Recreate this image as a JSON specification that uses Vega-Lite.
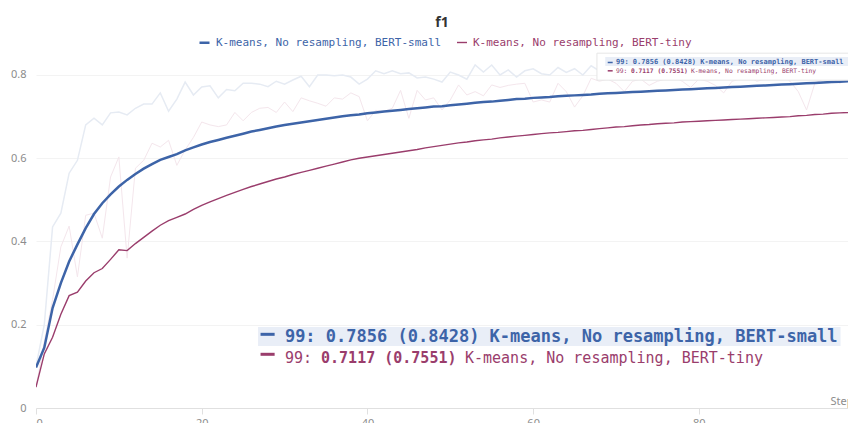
{
  "$schema": "https://vega.github.io/schema/vega-lite/v6.json",
  "width": 812,
  "height": 358,
  "autosize": {"type": "none"},
  "padding": {"left": 36, "top": 50, "right": 0, "bottom": 15},
  "background": "white",
  "title": {"text": "f1", "font": "Open Sans", "fontSize": 14, "fontWeight": "bold", "color": "#333333", "anchor": "middle", "frame": "group", "offset": 6},
  "config": {
    "view": {"stroke": null},
    "axis": {"labelFont": "Noto Sans", "labelFontSize": 11, "labelColor": "#8c8c8c", "gridColor": "#f3f3f3", "domain": false, "ticks": false, "titleFont": "Noto Sans", "titleFontWeight": "normal", "titleColor": "#8c8c8c", "titleFontSize": 11}
  },
  "datasets": {
    "runs": [
      {"step":0,"small":0.097,"tiny":0.05,"small_raw":0.10,"tiny_raw":0.05},
      {"step":1,"small":0.145,"tiny":0.13,"small_raw":0.20,"tiny_raw":0.16},
      {"step":2,"small":0.24,"tiny":0.17,"small_raw":0.435,"tiny_raw":0.26},
      {"step":3,"small":0.30,"tiny":0.225,"small_raw":0.468,"tiny_raw":0.387},
      {"step":4,"small":0.352,"tiny":0.27,"small_raw":0.564,"tiny_raw":0.437},
      {"step":5,"small":0.393,"tiny":0.278,"small_raw":0.595,"tiny_raw":0.315},
      {"step":6,"small":0.432,"tiny":0.305,"small_raw":0.68,"tiny_raw":0.463},
      {"step":7,"small":0.466,"tiny":0.325,"small_raw":0.696,"tiny_raw":0.468},
      {"step":8,"small":0.492,"tiny":0.335,"small_raw":0.68,"tiny_raw":0.408},
      {"step":9,"small":0.513,"tiny":0.357,"small_raw":0.709,"tiny_raw":0.555},
      {"step":10,"small":0.532,"tiny":0.38,"small_raw":0.711,"tiny_raw":0.603},
      {"step":11,"small":0.548,"tiny":0.378,"small_raw":0.704,"tiny_raw":0.36},
      {"step":12,"small":0.562,"tiny":0.395,"small_raw":0.72,"tiny_raw":0.576},
      {"step":13,"small":0.575,"tiny":0.41,"small_raw":0.73,"tiny_raw":0.595},
      {"step":14,"small":0.586,"tiny":0.425,"small_raw":0.73,"tiny_raw":0.636},
      {"step":15,"small":0.596,"tiny":0.439,"small_raw":0.757,"tiny_raw":0.627},
      {"step":16,"small":0.603,"tiny":0.45,"small_raw":0.713,"tiny_raw":0.643},
      {"step":17,"small":0.61,"tiny":0.458,"small_raw":0.742,"tiny_raw":0.583},
      {"step":18,"small":0.619,"tiny":0.466,"small_raw":0.783,"tiny_raw":0.62},
      {"step":19,"small":0.626,"tiny":0.477,"small_raw":0.752,"tiny_raw":0.65},
      {"step":20,"small":0.633,"tiny":0.487,"small_raw":0.771,"tiny_raw":0.687},
      {"step":21,"small":0.639,"tiny":0.495,"small_raw":0.774,"tiny_raw":0.68},
      {"step":22,"small":0.644,"tiny":0.503,"small_raw":0.745,"tiny_raw":0.676},
      {"step":23,"small":0.649,"tiny":0.511,"small_raw":0.765,"tiny_raw":0.68},
      {"step":24,"small":0.654,"tiny":0.518,"small_raw":0.762,"tiny_raw":0.71},
      {"step":25,"small":0.659,"tiny":0.525,"small_raw":0.78,"tiny_raw":0.69},
      {"step":26,"small":0.664,"tiny":0.532,"small_raw":0.78,"tiny_raw":0.71},
      {"step":27,"small":0.668,"tiny":0.538,"small_raw":0.778,"tiny_raw":0.72},
      {"step":28,"small":0.672,"tiny":0.544,"small_raw":0.772,"tiny_raw":0.722},
      {"step":29,"small":0.676,"tiny":0.55,"small_raw":0.785,"tiny_raw":0.71},
      {"step":30,"small":0.68,"tiny":0.555,"small_raw":0.778,"tiny_raw":0.735},
      {"step":31,"small":0.683,"tiny":0.561,"small_raw":0.788,"tiny_raw":0.712},
      {"step":32,"small":0.686,"tiny":0.566,"small_raw":0.797,"tiny_raw":0.745},
      {"step":33,"small":0.689,"tiny":0.571,"small_raw":0.772,"tiny_raw":0.738},
      {"step":34,"small":0.692,"tiny":0.576,"small_raw":0.8,"tiny_raw":0.732},
      {"step":35,"small":0.695,"tiny":0.581,"small_raw":0.8,"tiny_raw":0.725},
      {"step":36,"small":0.698,"tiny":0.586,"small_raw":0.798,"tiny_raw":0.745},
      {"step":37,"small":0.701,"tiny":0.591,"small_raw":0.8,"tiny_raw":0.742},
      {"step":38,"small":0.703,"tiny":0.596,"small_raw":0.795,"tiny_raw":0.757},
      {"step":39,"small":0.705,"tiny":0.6,"small_raw":0.778,"tiny_raw":0.748},
      {"step":40,"small":0.708,"tiny":0.603,"small_raw":0.79,"tiny_raw":0.69},
      {"step":41,"small":0.71,"tiny":0.606,"small_raw":0.81,"tiny_raw":0.715},
      {"step":42,"small":0.712,"tiny":0.609,"small_raw":0.803,"tiny_raw":0.712},
      {"step":43,"small":0.714,"tiny":0.612,"small_raw":0.81,"tiny_raw":0.72},
      {"step":44,"small":0.716,"tiny":0.615,"small_raw":0.803,"tiny_raw":0.763},
      {"step":45,"small":0.718,"tiny":0.618,"small_raw":0.805,"tiny_raw":0.696},
      {"step":46,"small":0.72,"tiny":0.621,"small_raw":0.793,"tiny_raw":0.763},
      {"step":47,"small":0.722,"tiny":0.625,"small_raw":0.795,"tiny_raw":0.74},
      {"step":48,"small":0.724,"tiny":0.628,"small_raw":0.79,"tiny_raw":0.745},
      {"step":49,"small":0.725,"tiny":0.631,"small_raw":0.783,"tiny_raw":0.716},
      {"step":50,"small":0.727,"tiny":0.634,"small_raw":0.807,"tiny_raw":0.74},
      {"step":51,"small":0.729,"tiny":0.637,"small_raw":0.8,"tiny_raw":0.776},
      {"step":52,"small":0.731,"tiny":0.639,"small_raw":0.79,"tiny_raw":0.752},
      {"step":53,"small":0.733,"tiny":0.642,"small_raw":0.824,"tiny_raw":0.76},
      {"step":54,"small":0.735,"tiny":0.644,"small_raw":0.807,"tiny_raw":0.75},
      {"step":55,"small":0.736,"tiny":0.646,"small_raw":0.824,"tiny_raw":0.776},
      {"step":56,"small":0.738,"tiny":0.649,"small_raw":0.8,"tiny_raw":0.77},
      {"step":57,"small":0.74,"tiny":0.651,"small_raw":0.812,"tiny_raw":0.775},
      {"step":58,"small":0.742,"tiny":0.653,"small_raw":0.795,"tiny_raw":0.778},
      {"step":59,"small":0.743,"tiny":0.655,"small_raw":0.81,"tiny_raw":0.78},
      {"step":60,"small":0.745,"tiny":0.657,"small_raw":0.815,"tiny_raw":0.735},
      {"step":61,"small":0.746,"tiny":0.659,"small_raw":0.803,"tiny_raw":0.74},
      {"step":62,"small":0.747,"tiny":0.661,"small_raw":0.8,"tiny_raw":0.735},
      {"step":63,"small":0.749,"tiny":0.662,"small_raw":0.818,"tiny_raw":0.78},
      {"step":64,"small":0.75,"tiny":0.664,"small_raw":0.806,"tiny_raw":0.76},
      {"step":65,"small":0.751,"tiny":0.666,"small_raw":0.815,"tiny_raw":0.723},
      {"step":66,"small":0.752,"tiny":0.667,"small_raw":0.8,"tiny_raw":0.75},
      {"step":67,"small":0.753,"tiny":0.669,"small_raw":0.822,"tiny_raw":0.792},
      {"step":68,"small":0.755,"tiny":0.671,"small_raw":0.81,"tiny_raw":0.785},
      {"step":69,"small":0.756,"tiny":0.673,"small_raw":0.818,"tiny_raw":0.79},
      {"step":70,"small":0.757,"tiny":0.675,"small_raw":0.81,"tiny_raw":0.78},
      {"step":71,"small":0.758,"tiny":0.676,"small_raw":0.805,"tiny_raw":0.76},
      {"step":72,"small":0.759,"tiny":0.678,"small_raw":0.81,"tiny_raw":0.785},
      {"step":73,"small":0.76,"tiny":0.68,"small_raw":0.8,"tiny_raw":0.79},
      {"step":74,"small":0.761,"tiny":0.681,"small_raw":0.812,"tiny_raw":0.775},
      {"step":75,"small":0.762,"tiny":0.683,"small_raw":0.815,"tiny_raw":0.785},
      {"step":76,"small":0.763,"tiny":0.684,"small_raw":0.808,"tiny_raw":0.79},
      {"step":77,"small":0.764,"tiny":0.685,"small_raw":0.82,"tiny_raw":0.795},
      {"step":78,"small":0.765,"tiny":0.687,"small_raw":0.81,"tiny_raw":0.785},
      {"step":79,"small":0.766,"tiny":0.688,"small_raw":0.815,"tiny_raw":0.77},
      {"step":80,"small":0.767,"tiny":0.689,"small_raw":0.82,"tiny_raw":0.79},
      {"step":81,"small":0.768,"tiny":0.69,"small_raw":0.812,"tiny_raw":0.785},
      {"step":82,"small":0.769,"tiny":0.691,"small_raw":0.825,"tiny_raw":0.775},
      {"step":83,"small":0.77,"tiny":0.692,"small_raw":0.815,"tiny_raw":0.757},
      {"step":84,"small":0.771,"tiny":0.693,"small_raw":0.82,"tiny_raw":0.785},
      {"step":85,"small":0.772,"tiny":0.694,"small_raw":0.83,"tiny_raw":0.79},
      {"step":86,"small":0.773,"tiny":0.695,"small_raw":0.82,"tiny_raw":0.795},
      {"step":87,"small":0.774,"tiny":0.696,"small_raw":0.825,"tiny_raw":0.785},
      {"step":88,"small":0.775,"tiny":0.697,"small_raw":0.818,"tiny_raw":0.79},
      {"step":89,"small":0.776,"tiny":0.698,"small_raw":0.828,"tiny_raw":0.795},
      {"step":90,"small":0.777,"tiny":0.699,"small_raw":0.83,"tiny_raw":0.8},
      {"step":91,"small":0.778,"tiny":0.7,"small_raw":0.822,"tiny_raw":0.785},
      {"step":92,"small":0.779,"tiny":0.702,"small_raw":0.835,"tiny_raw":0.76},
      {"step":93,"small":0.78,"tiny":0.703,"small_raw":0.83,"tiny_raw":0.716},
      {"step":94,"small":0.781,"tiny":0.705,"small_raw":0.826,"tiny_raw":0.78},
      {"step":95,"small":0.782,"tiny":0.706,"small_raw":0.832,"tiny_raw":0.79},
      {"step":96,"small":0.783,"tiny":0.708,"small_raw":0.838,"tiny_raw":0.795},
      {"step":97,"small":0.784,"tiny":0.709,"small_raw":0.83,"tiny_raw":0.78},
      {"step":98,"small":0.785,"tiny":0.71,"small_raw":0.84,"tiny_raw":0.79},
      {"step":99,"small":0.7856,"tiny":0.7117,"small_raw":0.8428,"tiny_raw":0.7551}
    ],
    "notes": [
      {"id":"bigbox","x":26.8,"x2":97.1,"y":0.149,"y2":0.1945},
      {"id":"bigdash1","x":27.1,"x2":28.8,"y":0.177},
      {"id":"bigdash2","x":27.1,"x2":28.8,"y":0.129},
      {"id":"big1","x":30.04,"y":0.170,"label":"99: 0.7856 (0.8428) K-means, No resampling, BERT-small"},
      {"id":"big2a","x":30.04,"y":0.121,"label":"99:"},
      {"id":"big2b","x":34.4,"y":0.121,"label":"0.7117 (0.7551)"},
      {"id":"big2c","x":51.77,"y":0.121,"label":"K-means, No resampling, BERT-tiny"},
      {"id":"tipbox","x":67.7,"x2":98.5,"y":0.7875,"y2":0.8524},
      {"id":"tiphl","x":68.7,"x2":98.5,"y":0.8215,"y2":0.843},
      {"id":"tipdash1","x":69.0,"x2":69.6,"y":0.830},
      {"id":"tipdash2","x":69.0,"x2":69.6,"y":0.810},
      {"id":"tip1","x":70.0,"y":0.830,"label":"99: 0.7856 (0.8428) K-means, No resampling, BERT-small"},
      {"id":"tip2a","x":70.0,"y":0.810,"label":"99:"},
      {"id":"tip2b","x":71.8,"y":0.810,"label":"0.7117 (0.7551)"},
      {"id":"tip2c","x":79.05,"y":0.810,"label":"K-means, No resampling, BERT-tiny"}
    ]
  },
  "layer": [
    {
      "data": {"name": "runs"},
      "mark": {"type": "line", "color": "#e6ebf3", "strokeWidth": 1.5, "clip": true},
      "encoding": {
        "x": {"field": "step", "type": "quantitative", "scale": {"domain": [0, 98], "nice": false, "zero": false},
          "axis": {"values": [0, 20, 40, 60, 80], "format": "d", "grid": false, "domain": true, "domainColor": "#e0e0e0", "ticks": true, "tickColor": "#e0e0e0", "tickSize": 6, "labelPadding": 3,
            "title": "Step", "titleX": 794, "titleY": -7, "titleAlign": "left", "titleBaseline": "middle", "titleAnchor": null}},
        "y": {"field": "small_raw", "type": "quantitative", "scale": {"domain": [0, 0.86], "nice": false},
          "axis": {"values": [0, 0.2, 0.4, 0.6, 0.8], "format": "~g", "grid": true, "labelPadding": 10, "title": null}}
      }
    },
    {
      "data": {"name": "runs"},
      "mark": {"type": "line", "color": "#f4e6ec", "strokeWidth": 1, "clip": true},
      "encoding": {
        "x": {"field": "step", "type": "quantitative", "scale": {"domain": [0, 98], "nice": false, "zero": false}},
        "y": {"field": "tiny_raw", "type": "quantitative", "scale": {"domain": [0, 0.86], "nice": false}}
      }
    },
    {
      "data": {"name": "runs"},
      "transform": [{"fold": ["small", "tiny"], "as": ["run", "f1"]}],
      "mark": {"type": "line", "clip": true},
      "encoding": {
        "x": {"field": "step", "type": "quantitative", "scale": {"domain": [0, 98], "nice": false, "zero": false}},
        "y": {"field": "f1", "type": "quantitative", "scale": {"domain": [0, 0.86], "nice": false}},
        "color": {"field": "run", "type": "nominal", "scale": {"domain": ["small", "tiny"], "range": ["#3d64a8", "#9a3d6c"]},
          "legend": {"orient": "none", "legendX": 162, "legendY": -14, "direction": "horizontal", "title": null,
            "symbolType": "stroke", "symbolStrokeWidth": 3, "symbolSize": 100, "labelFont": "DejaVu Sans Mono", "labelFontSize": 11,
            "labelOffset": 5, "columnPadding": 12, "labelLimit": 400,
            "labelExpr": "datum.label == 'small' ? 'K-means, No resampling, BERT-small' : 'K-means, No resampling, BERT-tiny'",
            "encode": {"labels": {"update": {"fill": {"scale": "color", "field": "value"}}}}}},
        "strokeWidth": {"field": "run", "type": "nominal", "scale": {"domain": ["small", "tiny"], "range": [2.5, 1.4]}, "legend": null}
      }
    },
    {
      "data": {"name": "notes"},
      "transform": [{"filter": "datum.id == 'bigbox'"}],
      "mark": {"type": "rect", "color": "#e9eef7", "clip": true},
      "encoding": {
        "x": {"field": "x", "type": "quantitative", "scale": {"domain": [0, 98], "nice": false, "zero": false}},
        "x2": {"field": "x2"},
        "y": {"field": "y", "type": "quantitative", "scale": {"domain": [0, 0.86], "nice": false}},
        "y2": {"field": "y2"}
      }
    },
    {
      "data": {"name": "notes"},
      "transform": [{"filter": "datum.id == 'tipbox'"}],
      "mark": {"type": "rect", "fill": "#ffffff", "stroke": "#e6e6e6", "strokeWidth": 1, "clip": true},
      "encoding": {
        "x": {"field": "x", "type": "quantitative", "scale": {"domain": [0, 98], "nice": false, "zero": false}},
        "x2": {"field": "x2"},
        "y": {"field": "y", "type": "quantitative", "scale": {"domain": [0, 0.86], "nice": false}},
        "y2": {"field": "y2"}
      }
    },
    {
      "data": {"name": "notes"},
      "transform": [{"filter": "datum.id == 'tiphl'"}],
      "mark": {"type": "rect", "color": "#e9eef7", "clip": true},
      "encoding": {
        "x": {"field": "x", "type": "quantitative", "scale": {"domain": [0, 98], "nice": false, "zero": false}},
        "x2": {"field": "x2"},
        "y": {"field": "y", "type": "quantitative", "scale": {"domain": [0, 0.86], "nice": false}},
        "y2": {"field": "y2"}
      }
    },
    {
      "data": {"name": "notes"},
      "transform": [{"filter": "datum.id == 'bigdash1'"}],
      "mark": {"type": "rule", "color": "#3d64a8", "strokeWidth": 3},
      "encoding": {
        "x": {"field": "x", "type": "quantitative", "scale": {"domain": [0, 98], "nice": false, "zero": false}},
        "x2": {"field": "x2"},
        "y": {"field": "y", "type": "quantitative", "scale": {"domain": [0, 0.86], "nice": false}}
      }
    },
    {
      "data": {"name": "notes"},
      "transform": [{"filter": "datum.id == 'bigdash2'"}],
      "mark": {"type": "rule", "color": "#9a3d6c", "strokeWidth": 3},
      "encoding": {
        "x": {"field": "x", "type": "quantitative", "scale": {"domain": [0, 98], "nice": false, "zero": false}},
        "x2": {"field": "x2"},
        "y": {"field": "y", "type": "quantitative", "scale": {"domain": [0, 0.86], "nice": false}}
      }
    },
    {
      "data": {"name": "notes"},
      "transform": [{"filter": "datum.id == 'tipdash1'"}],
      "mark": {"type": "rule", "color": "#3d64a8", "strokeWidth": 1.5},
      "encoding": {
        "x": {"field": "x", "type": "quantitative", "scale": {"domain": [0, 98], "nice": false, "zero": false}},
        "x2": {"field": "x2"},
        "y": {"field": "y", "type": "quantitative", "scale": {"domain": [0, 0.86], "nice": false}}
      }
    },
    {
      "data": {"name": "notes"},
      "transform": [{"filter": "datum.id == 'tipdash2'"}],
      "mark": {"type": "rule", "color": "#9a3d6c", "strokeWidth": 1.5},
      "encoding": {
        "x": {"field": "x", "type": "quantitative", "scale": {"domain": [0, 98], "nice": false, "zero": false}},
        "x2": {"field": "x2"},
        "y": {"field": "y", "type": "quantitative", "scale": {"domain": [0, 0.86], "nice": false}}
      }
    },
    {
      "data": {"name": "notes"},
      "transform": [{"filter": "datum.id == 'big1'"}],
      "mark": {"type": "text", "font": "DejaVu Sans Mono", "fontSize": 17, "fontWeight": "bold", "color": "#3d64a8", "align": "left", "baseline": "middle"},
      "encoding": {
        "x": {"field": "x", "type": "quantitative", "scale": {"domain": [0, 98], "nice": false, "zero": false}},
        "y": {"field": "y", "type": "quantitative", "scale": {"domain": [0, 0.86], "nice": false}},
        "text": {"field": "label"}
      }
    },
    {
      "data": {"name": "notes"},
      "transform": [{"filter": "datum.id == 'big2a' || datum.id == 'big2c'"}],
      "mark": {"type": "text", "font": "DejaVu Sans Mono", "fontSize": 15, "color": "#9a3d6c", "align": "left", "baseline": "middle"},
      "encoding": {
        "x": {"field": "x", "type": "quantitative", "scale": {"domain": [0, 98], "nice": false, "zero": false}},
        "y": {"field": "y", "type": "quantitative", "scale": {"domain": [0, 0.86], "nice": false}},
        "text": {"field": "label"}
      }
    },
    {
      "data": {"name": "notes"},
      "transform": [{"filter": "datum.id == 'big2b'"}],
      "mark": {"type": "text", "font": "DejaVu Sans Mono", "fontSize": 15, "fontWeight": "bold", "color": "#9a3d6c", "align": "left", "baseline": "middle"},
      "encoding": {
        "x": {"field": "x", "type": "quantitative", "scale": {"domain": [0, 98], "nice": false, "zero": false}},
        "y": {"field": "y", "type": "quantitative", "scale": {"domain": [0, 0.86], "nice": false}},
        "text": {"field": "label"}
      }
    },
    {
      "data": {"name": "notes"},
      "transform": [{"filter": "datum.id == 'tip1'"}],
      "mark": {"type": "text", "font": "DejaVu Sans Mono", "fontSize": 7, "fontWeight": "bold", "color": "#3d64a8", "align": "left", "baseline": "middle", "clip": true},
      "encoding": {
        "x": {"field": "x", "type": "quantitative", "scale": {"domain": [0, 98], "nice": false, "zero": false}},
        "y": {"field": "y", "type": "quantitative", "scale": {"domain": [0, 0.86], "nice": false}},
        "text": {"field": "label"}
      }
    },
    {
      "data": {"name": "notes"},
      "transform": [{"filter": "datum.id == 'tip2a' || datum.id == 'tip2c'"}],
      "mark": {"type": "text", "font": "DejaVu Sans Mono", "fontSize": 6.3, "color": "#9a3d6c", "align": "left", "baseline": "middle"},
      "encoding": {
        "x": {"field": "x", "type": "quantitative", "scale": {"domain": [0, 98], "nice": false, "zero": false}},
        "y": {"field": "y", "type": "quantitative", "scale": {"domain": [0, 0.86], "nice": false}},
        "text": {"field": "label"}
      }
    },
    {
      "data": {"name": "notes"},
      "transform": [{"filter": "datum.id == 'tip2b'"}],
      "mark": {"type": "text", "font": "DejaVu Sans Mono", "fontSize": 6.3, "fontWeight": "bold", "color": "#9a3d6c", "align": "left", "baseline": "middle"},
      "encoding": {
        "x": {"field": "x", "type": "quantitative", "scale": {"domain": [0, 98], "nice": false, "zero": false}},
        "y": {"field": "y", "type": "quantitative", "scale": {"domain": [0, 0.86], "nice": false}},
        "text": {"field": "label"}
      }
    }
  ]
}
